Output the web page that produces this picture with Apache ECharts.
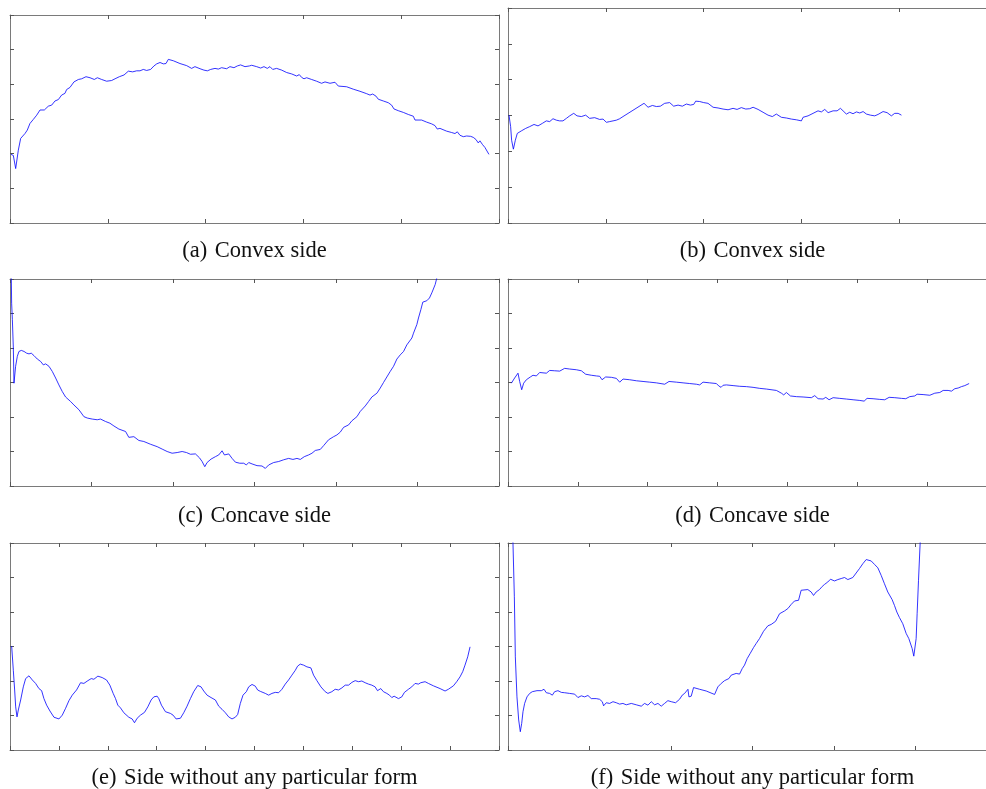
<!DOCTYPE html>
<html>
<head>
<meta charset="utf-8">
<title>Side profiles</title>
<script src="https://cdn.jsdelivr.net/npm/echarts@6/dist/echarts.min.js"></script>
<style>
  html, body { margin: 0; padding: 0; background: #fff; overflow: hidden; }
  #chart { width: 986px; height: 789px; }
</style>
</head>
<body>
<div id="chart"></div>
<script>
// (a) convex side
var aX = [1.0,3.4,5.8,8.5,10.9,15.3,17.7,20.4,23.9,27.3,30.7,35.1,39.2,42.6,46.0,49.4,52.8,56.2,57.9,61.3,65.4,69.9,73.3,77.7,81.8,86.2,89.3,93.7,98.8,103.9,107.4,111.8,116.6,121.0,125.4,129.5,132.9,136.3,139.7,143.8,147.2,150.0,153.4,156.8,159.5,161.9,167.0,173.8,180.6,185.7,189.1,194.3,198.3,201.8,205.2,209.6,213.0,216.4,221.5,224.9,229.0,232.4,235.8,240.3,244.7,247.1,252.2,256.3,259.7,263.1,265.8,268.6,272.6,277.8,282.9,288.0,293.1,295.8,298.2,300.6,303.3,308.4,313.5,318.6,322.1,327.2,332.3,335.7,337.4,344.2,351.0,357.8,364.7,368.1,370.8,374.2,376.6,381.7,386.8,390.2,392.6,397.0,402.2,407.3,412.4,414.1,415.8,420.9,426.0,431.1,434.5,436.9,439.6,441.3,446.4,451.6,455.0,457.4,460.1,463.5,466.9,468.6,471.0,473.7,476.4,478.8,480.5,483.2,485.6,489.7];
var aY = [1.98,1.95,1.57,2.10,2.44,2.58,2.68,2.87,2.99,3.11,3.26,3.26,3.37,3.40,3.52,3.56,3.69,3.74,3.85,3.91,4.07,4.14,4.16,4.22,4.19,4.14,4.19,4.14,4.09,4.11,4.16,4.22,4.27,4.38,4.36,4.39,4.39,4.43,4.40,4.43,4.53,4.59,4.63,4.59,4.60,4.72,4.68,4.60,4.54,4.46,4.51,4.45,4.41,4.39,4.43,4.46,4.44,4.48,4.45,4.51,4.48,4.53,4.56,4.51,4.53,4.55,4.51,4.47,4.51,4.46,4.51,4.43,4.46,4.41,4.34,4.30,4.24,4.28,4.20,4.16,4.19,4.14,4.09,4.03,4.07,4.03,4.06,3.95,4.00,3.93,3.86,3.80,3.73,3.69,3.72,3.66,3.57,3.52,3.47,3.40,3.29,3.24,3.19,3.13,3.08,2.97,3.02,2.97,2.91,2.86,2.81,2.71,2.73,2.68,2.65,2.61,2.58,2.63,2.53,2.49,2.51,2.46,2.50,2.47,2.41,2.31,2.37,2.26,2.18,1.98];

// (b) convex side
var bX = [1.0,2.7,3.7,5.5,7.5,9.5,13.6,18.1,22.2,26.6,30.7,35.1,39.2,42.6,46.0,49.4,52.8,56.2,59.7,63.1,67.2,70.6,75.0,79.4,83.5,88.6,93.7,97.2,100.6,104.0,107.4,110.8,114.2,117.6,139.1,143.2,147.6,151.7,155.8,160.2,165.3,169.4,173.9,178.3,182.4,186.5,189.9,191.9,196.0,200.1,204.5,209.7,214.8,219.9,225.0,230.1,234.2,238.6,243.1,247.2,250.6,255.7,260.8,265.9,270.3,274.4,279.5,284.7,289.8,294.9,300.0,301.7,306.8,311.9,317.0,320.4,323.9,327.3,332.4,336.5,339.9,342.6,346.0,349.4,352.8,356.3,359.7,363.1,366.5,370.6,375.0,378.4,383.5,387.6,392.0,395.4,398.9,402.3];
var bY = [3.01,2.69,2.31,2.06,2.31,2.50,2.57,2.64,2.69,2.75,2.71,2.78,2.85,2.83,2.91,2.87,2.85,2.85,2.92,2.99,3.06,2.99,2.97,3.01,2.92,2.94,2.89,2.90,2.81,2.83,2.85,2.87,2.91,2.97,3.34,3.23,3.28,3.25,3.26,3.34,3.36,3.26,3.29,3.26,3.32,3.29,3.31,3.40,3.39,3.36,3.34,3.23,3.21,3.18,3.16,3.20,3.17,3.22,3.18,3.19,3.23,3.17,3.09,3.01,2.97,3.04,2.95,2.93,2.90,2.88,2.85,2.95,2.99,3.06,3.13,3.10,3.17,3.08,3.13,3.13,3.20,3.13,3.04,3.09,3.05,3.10,3.07,3.11,3.04,3.01,2.99,3.03,3.11,3.08,2.99,3.06,3.06,3.01];

// (c) concave side
var cX = [1.2,2.0,2.9,4.1,4.9,5.7,6.9,9.0,11.0,13.9,17.2,20.4,23.3,26.1,29.4,33.5,37.6,40.9,43.7,47.8,51.9,56.0,60.0,64.1,68.2,74.3,78.4,84.6,90.7,94.8,100.9,107.0,111.1,117.2,122.6,127.5,133.6,141.8,145.8,152.0,158.1,164.2,172.4,180.6,186.7,192.8,198.9,205.1,211.2,216.5,221.4,227.5,232.4,235.7,239.0,241.8,246.7,252.0,256.1,260.2,263.1,268.4,272.5,276.6,281.9,286.8,290.0,292.9,297.0,303.1,309.2,313.3,317.4,323.5,329.7,335.8,341.9,347.2,352.1,356.2,361.1,366.4,370.5,374.6,380.7,384.8,390.9,397.1,401.1,405.2,409.3,415.4,419.5,425.7,429.7,435.9,440.0,444.0,450.2,454.3,458.3,462.4,466.5,470.6,474.7,478.8,482.9,486.9,493.1,495.1,499.2,501.2,504.1,506.5,511.4,514.7,517.6,521.7,523.7,527.8];
var cY = [6.85,5.30,4.82,4.00,2.98,2.98,3.47,3.76,3.90,3.93,3.90,3.85,3.83,3.85,3.78,3.68,3.61,3.51,3.54,3.47,3.32,3.13,2.93,2.74,2.58,2.45,2.35,2.21,2.01,1.97,1.94,1.92,1.94,1.87,1.82,1.74,1.65,1.58,1.41,1.43,1.32,1.29,1.21,1.14,1.07,1.00,0.95,0.97,1.00,0.97,0.92,0.93,0.82,0.71,0.56,0.68,0.78,0.85,0.90,1.02,0.90,0.93,0.80,0.69,0.66,0.66,0.61,0.68,0.64,0.59,0.58,0.51,0.61,0.68,0.71,0.76,0.80,0.77,0.80,0.77,0.85,0.90,0.95,1.03,1.06,1.17,1.34,1.43,1.48,1.56,1.70,1.77,1.89,2.01,2.16,2.32,2.45,2.58,2.69,2.84,3.00,3.16,3.32,3.47,3.68,3.80,3.90,4.09,4.29,4.43,4.68,4.87,5.11,5.33,5.37,5.45,5.60,5.84,6.03,6.37];

// (d) concave side
var dX = [4.8,9.5,14.3,16.7,19.6,22.4,26.3,32.0,35.8,40.6,45.3,54.9,59.7,66.8,74.0,81.1,88.3,97.8,105.0,111.2,119.3,126.5,131.3,134.6,139.8,148.0,155.1,159.9,164.7,174.2,183.8,193.3,202.9,212.4,224.3,230.5,241.0,250.6,260.1,269.7,274.4,279.2,288.8,298.3,301.7,305.0,307.9,312.6,322.2,331.7,341.3,350.8,360.4,369.9,384.2,391.4,394.7,398.5,404.3,412.9,422.4,434.3,439.1,443.9,451.0,454.9,459.6,465.4,474.9,484.5,494.0,503.6,509.8,514.0,522.6,532.2,539.3,545.6,553.7,563.2,569.4,575.1,582.3,585.6,594.2,603.8,610.9,618.1,622.9,630.0,634.8,639.6,644.4,649.1,653.9,656.3,660.1];
var dY = [2.98,3.13,3.27,3.03,2.79,2.98,3.08,3.16,3.21,3.19,3.29,3.27,3.35,3.34,3.33,3.41,3.39,3.37,3.34,3.24,3.21,3.19,3.18,3.08,3.16,3.15,3.12,3.01,3.10,3.08,3.05,3.03,3.01,2.99,2.95,3.03,3.01,2.99,2.97,2.95,2.93,3.01,2.99,2.97,2.90,2.86,2.92,2.93,2.91,2.89,2.88,2.86,2.83,2.81,2.77,2.69,2.64,2.71,2.61,2.59,2.58,2.56,2.62,2.53,2.52,2.57,2.50,2.56,2.54,2.52,2.50,2.48,2.46,2.54,2.53,2.51,2.50,2.57,2.56,2.54,2.53,2.59,2.61,2.66,2.65,2.63,2.69,2.71,2.77,2.77,2.75,2.82,2.84,2.88,2.91,2.90,2.97];

// (e) side without any particular form
var eX = [3.4,6.8,9.5,11.6,14.3,17.0,21.8,27.2,32.0,38.8,45.6,52.4,59.2,64.7,69.4,74.9,81.7,89.9,100.1,106.9,113.7,120.5,127.3,136.1,144.3,151.1,159.3,166.1,171.5,179.7,188.5,197.4,204.2,211.0,215.8,220.5,226.0,232.8,243.0,249.8,254.6,260.0,266.8,275.0,281.8,288.6,294.1,300.9,304.3,309.7,317.9,328.1,333.5,339.7,348.5,355.3,362.1,368.9,375.7,383.9,390.7,396.2,403.0,411.1,420.0,426.8,433.6,440.4,447.2,454.0,460.8,465.6,471.0,476.5,483.3,488.1,494.9,501.7,506.4,511.9,522.1,528.9,535.7,542.5,549.3,556.1,562.9,569.7,576.5,583.4,588.1,593.6,600.4,607.2,615.3,620.8,627.6,635.8,644.6,650.1,658.2,665.0,671.9,678.7,685.5,692.3,699.1,705.9,712.7,719.5,726.3,733.1,739.9,746.7,751.5,758.3,763.7,770.6,776.0,780.8,785.5,794.4,801.2,806.6,814.8,821.6,828.4,835.2,840.0,848.8,855.6,865.9,879.5,889.7,896.5,906.7,913.5,920.3,925.8,930.5,936.0,940.8];
var eY = [3.01,2.31,1.74,1.25,0.96,1.16,1.45,1.83,2.07,2.15,2.03,1.93,1.78,1.72,1.49,1.30,1.13,0.95,0.90,1.01,1.21,1.43,1.59,1.74,1.95,1.93,2.01,2.07,2.05,2.14,2.10,2.03,1.88,1.64,1.49,1.30,1.22,1.08,0.95,0.90,0.79,0.92,1.01,1.09,1.25,1.45,1.54,1.56,1.49,1.30,1.11,1.06,1.01,0.90,0.92,1.08,1.27,1.49,1.69,1.87,1.83,1.71,1.59,1.52,1.45,1.27,1.18,1.08,0.96,0.90,0.95,1.03,1.35,1.59,1.69,1.83,1.90,1.85,1.74,1.70,1.64,1.59,1.64,1.67,1.66,1.76,1.91,2.03,2.17,2.31,2.43,2.49,2.46,2.41,2.38,2.17,2.01,1.83,1.69,1.64,1.69,1.76,1.74,1.80,1.88,1.88,1.96,2.01,1.98,2.00,1.95,1.91,1.88,1.83,1.72,1.78,1.69,1.64,1.59,1.52,1.56,1.49,1.54,1.67,1.76,1.83,1.93,1.91,1.95,1.98,1.93,1.86,1.78,1.71,1.76,1.86,1.98,2.12,2.27,2.46,2.70,2.99];

// (f) side without any particular form
var fX = [4.9,6.1,7.8,9.0,11.0,13.1,15.1,16.8,18.4,20.4,23.3,26.6,29.8,35.6,40.9,44.2,47.0,51.1,54.4,57.2,61.3,65.4,69.5,75.6,81.8,85.8,89.9,94.0,98.1,102.2,108.3,112.4,115.7,117.3,120.6,124.7,128.8,132.9,136.9,141.0,145.1,151.3,157.4,163.5,167.6,171.7,175.8,179.9,184.0,188.0,192.1,196.2,200.3,205.6,210.5,213.8,216.7,220.8,222.0,224.8,227.7,235.1,243.2,253.5,257.5,261.6,265.7,271.0,273.9,280.0,284.1,287.4,290.2,293.5,297.2,301.3,304.6,308.6,313.5,318.9,323.0,328.3,333.2,339.3,343.4,347.5,351.6,356.5,359.7,361.8,367.9,372.0,374.9,378.1,382.2,385.5,388.4,392.4,395.7,400.6,404.7,408.8,412.9,417.0,423.1,427.2,431.3,435.4,439.5,445.6,449.7,453.8,457.9,461.9,466.0,471.3,474.2,477.1,480.3,484.4,488.5,491.8,495.9,497.9,499.6,500.8,502.0,503.7,505.7,507.3];
var fY = [6.56,6.00,4.44,2.70,1.54,0.87,0.53,0.77,1.11,1.35,1.54,1.64,1.69,1.72,1.72,1.76,1.66,1.64,1.59,1.69,1.72,1.67,1.66,1.64,1.62,1.52,1.57,1.54,1.58,1.49,1.49,1.47,1.40,1.28,1.37,1.35,1.40,1.37,1.33,1.35,1.31,1.35,1.31,1.27,1.35,1.30,1.40,1.31,1.35,1.27,1.35,1.43,1.40,1.37,1.47,1.59,1.64,1.76,1.54,1.56,1.81,1.76,1.71,1.61,1.83,1.93,2.01,2.07,2.17,2.22,2.20,2.36,2.46,2.65,2.80,2.97,3.09,3.23,3.44,3.60,3.64,3.73,3.95,4.03,4.10,4.22,4.32,4.34,4.63,4.68,4.65,4.58,4.48,4.58,4.65,4.74,4.80,4.87,4.95,4.90,4.94,4.97,5.00,4.94,5.00,5.13,5.26,5.40,5.52,5.48,5.38,5.28,5.06,4.82,4.58,4.36,4.19,4.00,3.84,3.66,3.38,3.23,2.94,2.72,2.70,3.23,3.95,4.92,6.00,6.56];

var captions = [
    '(a)\u2004Convex side', '(b)\u2004Convex side',
    '(c)\u2004Concave side', '(d)\u2004Concave side',
    '(e)\u2004Side without any particular form', '(f)\u2004Side without any particular form'
];
var seriesX = [aX, bX, cX, dX, eX, fX];
var seriesY = [aY, bY, cY, dY, eY, fY];
var xMax = [500, 500, 600, 700, 1000, 600];
var yMax = 6;

// plot boxes (the right column runs past the page edge like the source)
var boxes = [
    {left: 10, top: 15, width: 489, height: 208},
    {left: 508, top: 8, width: 489, height: 215},
    {left: 10, top: 279, width: 489, height: 207},
    {left: 508, top: 279, width: 489, height: 207},
    {left: 10, top: 543, width: 489, height: 207},
    {left: 508, top: 543, width: 489, height: 207}
];
var captionY = [251, 251, 516, 516, 778, 778];

var frameColor = '#7a7a7a';

function axisBase(i, max, pos) {
    return {
        type: 'value',
        gridIndex: i,
        position: pos,
        min: 0,
        max: max,
        interval: 100,
        axisLine: {show: true, onZero: false, lineStyle: {color: frameColor, width: 1}},
        axisTick: {show: true, inside: true, length: 4, lineStyle: {color: '#555'}},
        axisLabel: {show: false},
        splitLine: {show: false}
    };
}

var grids = [], xAxes = [], yAxes = [], series = [], graphics = [];
for (var i = 0; i < 6; i++) {
    grids.push(Object.assign({containLabel: false, outerBoundsMode: 'none'}, boxes[i]));
    xAxes.push(axisBase(i, xMax[i], 'bottom'));
    xAxes.push(axisBase(i, xMax[i], 'top'));
    var yl = axisBase(i, yMax, 'left');
    yl.interval = 1;
    var yr = axisBase(i, yMax, 'right');
    yr.interval = 1;
    yAxes.push(yl, yr);

    var pts = [];
    for (var k = 0; k < seriesX[i].length; k++) {
        pts.push([seriesX[i][k], seriesY[i][k]]);
    }
    series.push({
        type: 'line',
        xAxisIndex: 2 * i,
        yAxisIndex: 2 * i,
        data: pts,
        showSymbol: false,
        clip: true,
        silent: true,
        lineStyle: {color: '#0000ff', width: 0.8}
    });

    graphics.push({
        type: 'text',
        x: boxes[i].left + boxes[i].width / 2,
        y: captionY[i],
        style: {
            text: captions[i],
            align: 'center',
            verticalAlign: 'middle',
            font: '22.5px "Liberation Serif", "Times New Roman", serif',
            fill: '#111'
        }
    });
}

var chart = echarts.init(document.getElementById('chart'));
chart.setOption({
    animation: false,
    backgroundColor: '#fff',
    grid: grids,
    xAxis: xAxes,
    yAxis: yAxes,
    series: series,
    graphic: graphics
});
</script>
</body>
</html>
